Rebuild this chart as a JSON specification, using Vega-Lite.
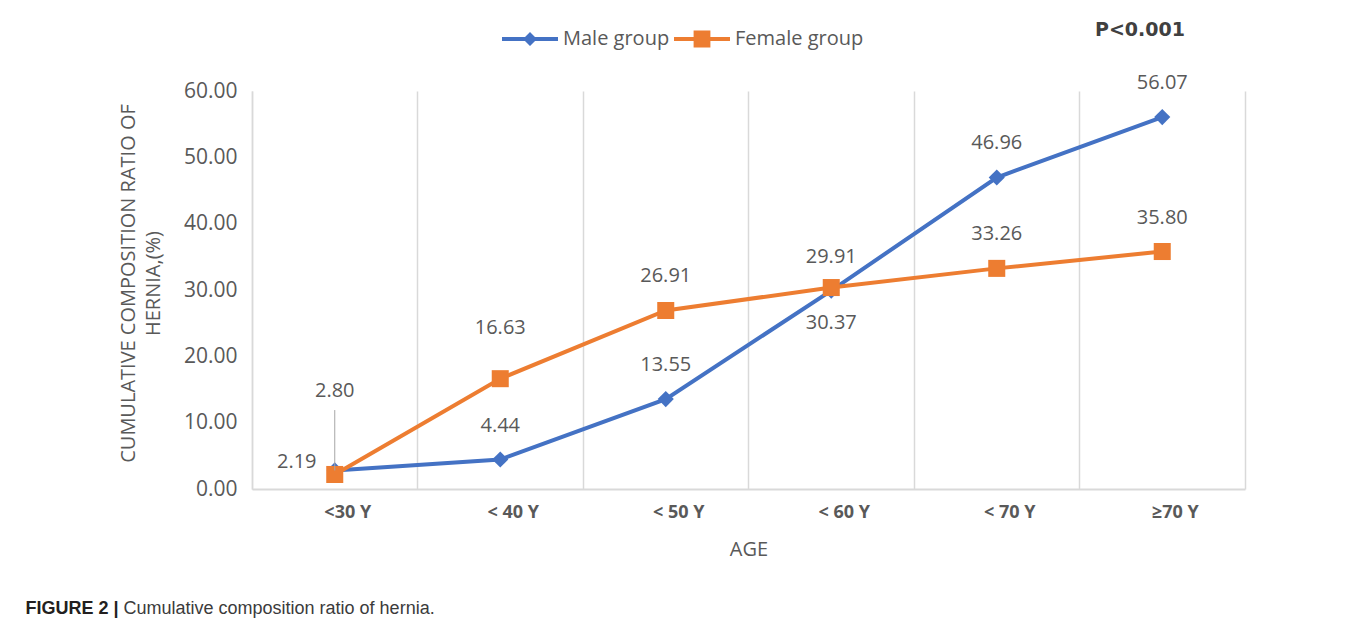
{
  "$schema": "https://vega.github.io/schema/vega-lite/v6.json",
  "width": 993,
  "height": 398,
  "autosize": {"type": "none"},
  "padding": {"left": 252, "top": 91, "right": 115, "bottom": 135},
  "background": "white",
  "config": {"view": {"stroke": null}, "font": "Open Sans"},
  "data": {"values": [
    {"age": "<30 Y", "group": "Male group", "value": 2.80},
    {"age": "< 40 Y", "group": "Male group", "value": 4.44},
    {"age": "< 50 Y", "group": "Male group", "value": 13.55},
    {"age": "< 60 Y", "group": "Male group", "value": 29.91},
    {"age": "< 70 Y", "group": "Male group", "value": 46.96},
    {"age": "≥70 Y", "group": "Male group", "value": 56.07},
    {"age": "<30 Y", "group": "Female group", "value": 2.19},
    {"age": "< 40 Y", "group": "Female group", "value": 16.63},
    {"age": "< 50 Y", "group": "Female group", "value": 26.91},
    {"age": "< 60 Y", "group": "Female group", "value": 30.37},
    {"age": "< 70 Y", "group": "Female group", "value": 33.26},
    {"age": "≥70 Y", "group": "Female group", "value": 35.80}
  ]},
  "resolve": {"axis": {"x": "independent", "y": "independent"}},
  "layer": [
    {
      "mark": {"type": "line", "strokeWidth": 4},
      "encoding": {
        "x": {"field": "age", "type": "nominal", "sort": ["<30 Y", "< 40 Y", "< 50 Y", "< 60 Y", "< 70 Y", "≥70 Y"],
              "scale": {"type": "band", "paddingInner": 0, "paddingOuter": 0},
              "axis": {"title": "AGE", "titleFontSize": 20, "titleFontWeight": "normal", "titleColor": "#595959", "titleFont": "Open Sans",
                       "titleY": 60, "titleBaseline": "middle", "labelAngle": 0, "labelFontSize": 18, "labelFontWeight": "bold",
                       "labelColor": "#595959", "labelPadding": 14, "labelFont": "Open Sans", "ticks": false, "tickSize": 0,
                       "domain": true, "domainColor": "#d9d9d9", "domainWidth": 2, "grid": false, "labelOffset": 13}},
        "y": {"field": "value", "type": "quantitative", "scale": {"domain": [0, 60], "nice": false},
              "axis": {"title": ["CUMULATIVE COMPOSITION RATIO OF", "HERNIA,(%)"], "values": [0, 10, 20, 30, 40, 50, 60], "format": ".2f",
                       "labelFontSize": 21, "labelColor": "#595959", "labelPadding": 15, "labelFont": "Open Sans", "ticks": false, "tickSize": 0,
                       "domain": true, "domainColor": "#d9d9d9", "domainWidth": 1.5, "grid": false,
                       "titleFontSize": 20, "titleFontWeight": "normal", "titleColor": "#595959", "titleFont": "Open Sans",
                       "titleX": -134, "titleY": 192, "titleAlign": "center", "titleBaseline": "top", "titleAngle": -90, "titleLineHeight": 25}},
        "color": {"field": "group", "type": "nominal", "scale": {"domain": ["Male group", "Female group"], "range": ["#4472C4", "#ED7D31"]},
                  "legend": {"orient": "none", "legendX": 250, "legendY": -80, "direction": "horizontal",
                             "title": "P<0.001", "titleOrient": "right", "titlePadding": 232,
                             "titleFont": "DejaVu Sans", "titleFontSize": 19, "titleFontWeight": "bold", "titleColor": "#404040",
                             "labelFont": "Open Sans", "labelFontSize": 20, "labelColor": "#595959", "labelOffset": 5,
                             "columnPadding": 4, "padding": 0, "symbolSize": 3136, "symbolStrokeWidth": 0,
                             "encode": {"symbols": {"update": {
                               "shape": {"signal": "datum.value === 'Male group' ? 'M-1,-0.07H1V0.07H-1Z M0,-0.25L0.25,0L0,0.25L-0.25,0Z' : 'M-1,-0.07H1V0.07H-1Z M-0.3,-0.3H0.3V0.3H-0.3Z'"},
                               "fill": {"signal": "datum.value === 'Male group' ? '#4472C4' : '#ED7D31'"},
                               "strokeWidth": {"value": 0},
                               "size": {"value": 3136}, "opacity": {"value": 1}}}}}}
      }
    },
    {
      "transform": [{"filter": "datum.group === 'Male group'"}],
      "mark": {"type": "point", "shape": "diamond", "filled": true, "opacity": 1, "size": 260, "strokeWidth": 0, "color": "#4472C4"},
      "encoding": {
        "x": {"field": "age", "type": "nominal", "sort": ["<30 Y", "< 40 Y", "< 50 Y", "< 60 Y", "< 70 Y", "≥70 Y"],
              "axis": {"orient": "bottom", "bandPosition": 0, "grid": true, "gridColor": "#d9d9d9", "gridWidth": 1.5,
                       "labels": false, "ticks": false, "domain": false,
                       "title": "FIGURE 2 |", "titleFont": "Liberation Sans", "titleFontSize": 18, "titleFontWeight": "bold", "titleColor": "#231f20",
                       "titleX": -227, "titleY": 119, "titleAlign": "left", "titleBaseline": "middle", "titleAngle": 0}},
        "y": {"field": "value", "type": "quantitative",
              "axis": {"orient": "right", "labels": false, "ticks": false, "grid": false, "domain": true, "domainColor": "#d9d9d9", "domainWidth": 1.5,
                       "title": "Cumulative composition ratio of hernia.", "titleAngle": 0, "titleFont": "Liberation Sans", "titleFontSize": 18,
                       "titleFontWeight": "normal", "titleColor": "#3b3b3b", "titleX": -1122, "titleY": 517, "titleAlign": "left", "titleBaseline": "middle"}}
      }
    },
    {
      "transform": [{"filter": "datum.group === 'Female group'"}],
      "mark": {"type": "point", "shape": "square", "filled": true, "opacity": 1, "size": 290, "strokeWidth": 0, "color": "#ED7D31"},
      "encoding": {
        "x": {"field": "age", "type": "nominal", "sort": ["<30 Y", "< 40 Y", "< 50 Y", "< 60 Y", "< 70 Y", "≥70 Y"], "axis": null},
        "y": {"field": "value", "type": "quantitative", "axis": null}
      }
    },
    {
      "transform": [{"filter": "!(datum.age === '<30 Y' || (datum.group === 'Female group' && (datum.age === '< 40 Y' || datum.age === '< 60 Y')))"}],
      "mark": {"type": "text", "dy": -34, "fontSize": 20, "color": "#595959", "font": "Open Sans"},
      "encoding": {
        "x": {"field": "age", "type": "nominal", "sort": ["<30 Y", "< 40 Y", "< 50 Y", "< 60 Y", "< 70 Y", "≥70 Y"], "axis": null},
        "y": {"field": "value", "type": "quantitative", "axis": null},
        "text": {"field": "value", "type": "quantitative", "format": ".2f"}
      }
    },
    {
      "transform": [{"filter": "datum.group === 'Female group' && datum.age === '< 40 Y'"}],
      "mark": {"type": "text", "dy": -51, "fontSize": 20, "color": "#595959", "font": "Open Sans"},
      "encoding": {
        "x": {"field": "age", "type": "nominal", "sort": ["<30 Y", "< 40 Y", "< 50 Y", "< 60 Y", "< 70 Y", "≥70 Y"], "axis": null},
        "y": {"field": "value", "type": "quantitative", "axis": null},
        "text": {"field": "value", "type": "quantitative", "format": ".2f"}
      }
    },
    {
      "transform": [{"filter": "datum.group === 'Female group' && datum.age === '< 60 Y'"}],
      "mark": {"type": "text", "dy": 35, "fontSize": 20, "color": "#595959", "font": "Open Sans"},
      "encoding": {
        "x": {"field": "age", "type": "nominal", "sort": ["<30 Y", "< 40 Y", "< 50 Y", "< 60 Y", "< 70 Y", "≥70 Y"], "axis": null},
        "y": {"field": "value", "type": "quantitative", "axis": null},
        "text": {"field": "value", "type": "quantitative", "format": ".2f"}
      }
    },
    {
      "transform": [{"filter": "datum.group === 'Male group' && datum.age === '<30 Y'"}],
      "mark": {"type": "text", "dy": -79, "fontSize": 20, "color": "#595959", "font": "Open Sans"},
      "encoding": {
        "x": {"field": "age", "type": "nominal", "sort": ["<30 Y", "< 40 Y", "< 50 Y", "< 60 Y", "< 70 Y", "≥70 Y"], "axis": null},
        "y": {"field": "value", "type": "quantitative", "axis": null},
        "text": {"field": "value", "type": "quantitative", "format": ".2f"}
      }
    },
    {
      "transform": [{"filter": "datum.group === 'Female group' && datum.age === '<30 Y'"}],
      "mark": {"type": "text", "dx": -38, "dy": -12, "fontSize": 20, "color": "#595959", "font": "Open Sans"},
      "encoding": {
        "x": {"field": "age", "type": "nominal", "sort": ["<30 Y", "< 40 Y", "< 50 Y", "< 60 Y", "< 70 Y", "≥70 Y"], "axis": null},
        "y": {"field": "value", "type": "quantitative", "axis": null},
        "text": {"field": "value", "type": "quantitative", "format": ".2f"}
      }
    },
    {
      "transform": [{"filter": "datum.group === 'Male group' && datum.age === '<30 Y'"}],
      "mark": {"type": "rule", "color": "#a6a6a6", "strokeWidth": 1},
      "encoding": {
        "x": {"field": "age", "type": "nominal", "sort": ["<30 Y", "< 40 Y", "< 50 Y", "< 60 Y", "< 70 Y", "≥70 Y"], "axis": null},
        "y": {"field": "value", "type": "quantitative", "axis": null},
        "y2": {"datum": 11.9}
      }
    }
  ]
}
